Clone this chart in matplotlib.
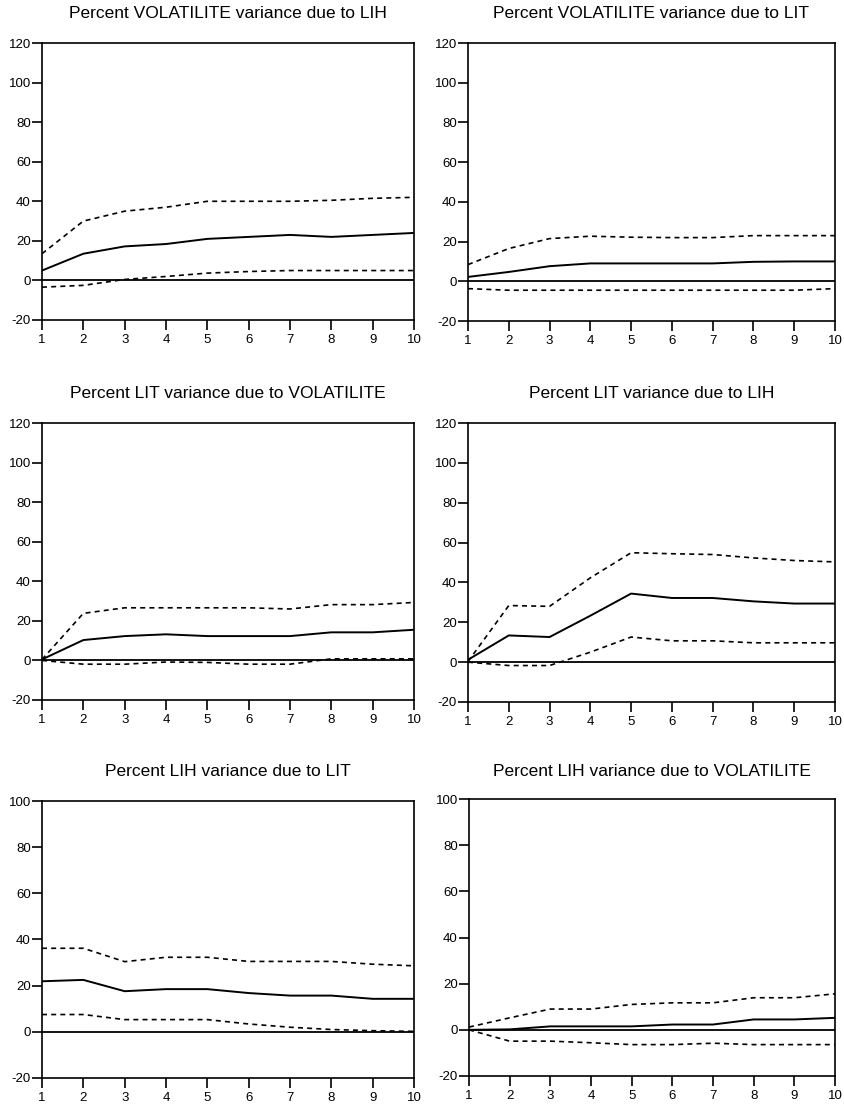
import matplotlib
matplotlib.use("Agg")
import matplotlib.pyplot as plt

plt.rcParams['font.family'] = ['Liberation Sans', 'DejaVu Sans']
plt.rcParams['axes.unicode_minus'] = False

periods = [1, 2, 3, 4, 5, 6, 7, 8, 9, 10]

titles = [
    "Percent VOLATILITE variance due to LIH",
    "Percent VOLATILITE variance due to LIT",
    "Percent LIT variance due to VOLATILITE",
    "Percent LIT variance due to LIH",
    "Percent LIH variance due to LIT",
    "Percent LIH variance due to VOLATILITE",
]

# Panel 1
p1_mid = [5.0, 13.5, 17.2, 18.4, 21.0, 22.0, 23.0, 22.0, 23.0, 24.0]
p1_up = [13.5, 30.0, 35.0, 37.0, 40.0, 40.0, 40.0, 40.5, 41.5, 42.0]
p1_lo = [-3.4, -2.5, 0.5, 2.0, 3.7, 4.5, 5.0, 5.0, 5.0, 5.0]
# Panel 2
p2_mid = [2.2, 4.7, 7.6, 9.0, 9.0, 9.0, 9.0, 9.8, 10.0, 10.0]
p2_up = [8.4, 16.5, 21.5, 22.7, 22.2, 22.0, 22.0, 23.0, 23.0, 23.0]
p2_lo = [-3.7, -4.5, -4.5, -4.5, -4.5, -4.5, -4.5, -4.5, -4.5, -3.7]
# Panel 3
p3_mid = [0.5, 10.3, 12.3, 13.2, 12.3, 12.3, 12.3, 14.2, 14.2, 15.5]
p3_up = [0.5, 23.8, 26.6, 26.6, 26.6, 26.6, 26.0, 28.2, 28.2, 29.3]
p3_lo = [0.0, -1.9, -1.9, -0.8, -1.0, -1.9, -1.9, 0.8, 0.8, 0.8]
# Panel 4
p4_mid = [1.2, 13.4, 12.6, 23.3, 34.4, 32.2, 32.2, 30.5, 29.4, 29.4]
p4_up = [0.3, 28.4, 28.0, 42.3, 54.9, 54.4, 54.0, 52.3, 51.0, 50.3]
p4_lo = [0.0, -1.7, -1.7, 5.0, 12.6, 10.7, 10.7, 9.7, 9.7, 9.7]
# Panel 5
p5_mid = [21.9, 22.5, 17.6, 18.5, 18.5, 16.8, 15.7, 15.7, 14.3, 14.3]
p5_up = [36.2, 36.2, 30.4, 32.3, 32.3, 30.5, 30.5, 30.5, 29.3, 28.6]
p5_lo = [7.5, 7.5, 5.3, 5.3, 5.3, 3.4, 2.0, 1.0, 0.5, 0.2]
# Panel 6
p6_mid = [0.0, 0.2, 1.5, 1.5, 1.5, 2.3, 2.3, 4.5, 4.5, 5.2]
p6_up = [1.2, 5.2, 9.0, 9.0, 11.0, 11.7, 11.7, 13.9, 13.9, 15.6]
p6_lo = [0.0, -4.9, -4.9, -5.6, -6.4, -6.4, -5.8, -6.4, -6.4, -6.4]

series = [
    (p1_mid, p1_up, p1_lo),
    (p2_mid, p2_up, p2_lo),
    (p3_mid, p3_up, p3_lo),
    (p4_mid, p4_up, p4_lo),
    (p5_mid, p5_up, p5_lo),
    (p6_mid, p6_up, p6_lo),
]

yticks_a = [-20, 0, 20, 40, 60, 80, 100, 120]
yticks_b = [-20, 0, 20, 40, 60, 80, 100]
ylims = [(-20, 120)] * 4 + [(-20, 100)] * 2
ytick_sets = [yticks_a] * 4 + [yticks_b] * 2

W, H = 845, 1107
# pixel boxes: left, top, right, bottom
boxes = [
    (42, 43, 414, 320),
    (468, 43, 835, 321),
    (42, 423, 414, 700),
    (468, 423, 835, 702),
    (42, 801, 414, 1078),
    (469, 799, 835, 1076),
]
title_y = [13, 13, 393, 393, 772, 772]

fig = plt.figure(figsize=(W / 100, H / 100), dpi=100)
fig.patch.set_facecolor('white')

for i, (l, t, r, b) in enumerate(boxes):
    ax = fig.add_axes([l / W, 1 - b / H, (r - l) / W, (b - t) / H])
    mid, up, lo = series[i]
    ax.axhline(0, color='black', lw=1.3, zorder=1)
    ax.plot(periods, mid, color='black', lw=1.4, zorder=3)
    ax.plot(periods, up, color='black', lw=1.2, linestyle=(0, (3, 2.5)), zorder=3)
    ax.plot(periods, lo, color='black', lw=1.2, linestyle=(0, (3, 2.5)), zorder=3)
    ax.set_xlim(1, 10)
    ax.set_ylim(*ylims[i])
    ax.set_xticks(periods)
    ax.set_yticks(ytick_sets[i])
    ax.tick_params(direction='out', length=7, width=1.2, labelsize=9.5, colors='black')
    ax.tick_params(axis='y', pad=1)
    ax.tick_params(axis='x', pad=3)
    for s in ax.spines.values():
        s.set_linewidth(1.2)
        s.set_color('black')
    ax.set_facecolor('white')
    fig.text((l + r) / 2 / W, 1 - title_y[i] / H, titles[i], ha='center', va='center',
             fontsize=12.5, color='black')

fig.savefig('out.png', dpi=100, facecolor='white')
